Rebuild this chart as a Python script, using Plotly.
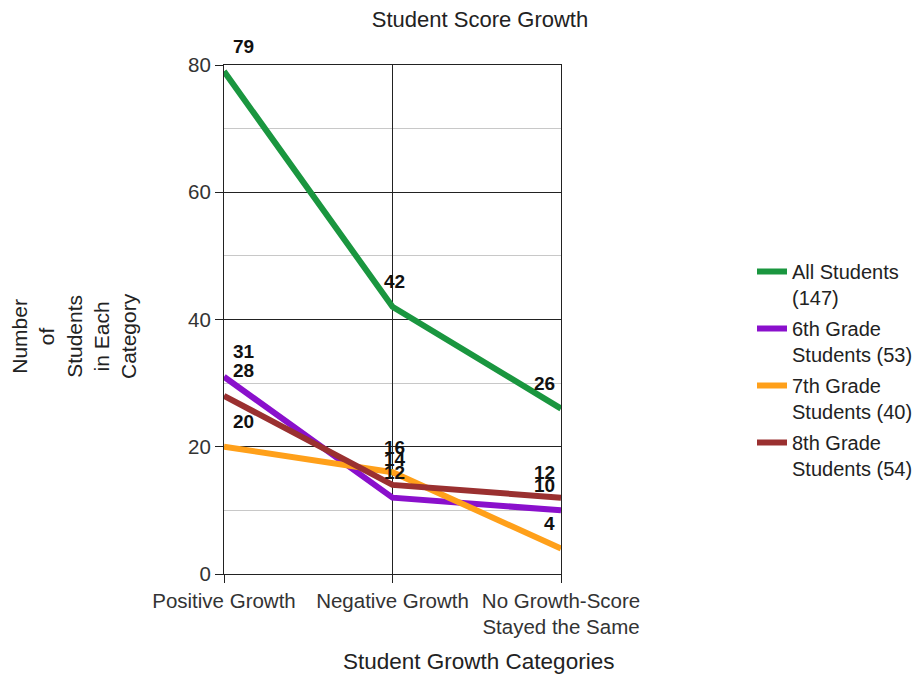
import plotly.graph_objects as go

# Growth categories on the x axis
categories = ["Positive Growth", "Negative Growth", "No Growth-Score<br>Stayed the Same"]

# Number of students in each category, per group
all_students = [79, 42, 26]
grade6 = [31, 12, 10]
grade7 = [20, 16, 4]
grade8 = [28, 14, 12]

series_names = [
    "All Students<br>(147)",
    "6th Grade<br>Students (53)",
    "7th Grade<br>Students (40)",
    "8th Grade<br>Students (54)",
]
series_values = [all_students, grade6, grade7, grade8]
series_colors = ["#1a963f", "#8a10cc", "#ffa01a", "#9a3030"]

y_ticks = [0, 20, 40, 60, 80]

FONT = "Liberation Sans, Arial, sans-serif"
x_pos = list(range(len(categories)))

fig = go.Figure()
for name, vals, color in zip(series_names, series_values, series_colors):
    fig.add_trace(go.Scatter(
        x=x_pos, y=vals, mode="lines", name=name,
        line=dict(color=color, width=6),
        cliponaxis=False,
        legendgroup=name,
    ))

# Value labels above each point
for si, vals in enumerate(series_values):
    for i, v in enumerate(vals):
        if i == 0:
            xanchor, xshift = "left", 7
        elif i == len(vals) - 1:
            xanchor, xshift = "right", -4
        else:
            xanchor, xshift = "center", 2
        fig.add_annotation(
            x=x_pos[i], y=v, text=f"<b>{v}</b>", showarrow=False,
            xanchor=xanchor, yanchor="middle",
            xshift=xshift, yshift=25,
            font=dict(family=FONT, size=19, color="#111111"),
        )

# Axis titles
fig.add_annotation(
    xref="paper", yref="paper", x=(478 - 224) / 337, y=(574 - 661) / 509,
    text="Student Growth Categories", showarrow=False,
    xanchor="center", yanchor="middle",
    font=dict(family=FONT, size=22.5, color="#222222"),
)
fig.add_annotation(
    xref="paper", yref="paper", x=(74 - 224) / 337, y=(574 - 336) / 509,
    text="Number<br>of<br>Students<br>in Each<br>Category", showarrow=False,
    textangle=-90, xanchor="center", yanchor="middle",
    font=dict(family=FONT, size=21, color="#222222"),
)

fig.update_layout(
    width=918, height=675,
    margin=dict(l=224, r=357, t=65, b=101),
    paper_bgcolor="white", plot_bgcolor="white",
    font=dict(family=FONT, size=20.5, color="#333333"),
    title=dict(
        text="Student Score Growth", xref="container", yref="container",
        x=480 / 918, y=1 - 19 / 675, xanchor="center", yanchor="middle",
        font=dict(family=FONT, size=22, color="#222222"),
    ),
    legend=dict(
        xref="container", yref="container",
        x=752 / 918, y=1 - 252 / 675, xanchor="left", yanchor="top",
        font=dict(family=FONT, size=20, color="#222222"),
        itemwidth=30, tracegroupgap=2, valign="top",
        bgcolor="rgba(0,0,0,0)",
    ),
    showlegend=True,
)

fig.update_xaxes(
    range=[0, 2], tickmode="array", tickvals=x_pos, ticktext=categories,
    showgrid=True, gridcolor="#222222", gridwidth=1,
    showline=True, linecolor="#222222", linewidth=1, mirror=True,
    ticks="outside", ticklen=8, tickcolor="#222222",
    zeroline=False, fixedrange=True,
)
fig.update_yaxes(
    range=[0, 80], tickmode="array", tickvals=y_ticks,
    showgrid=True, gridcolor="#222222", gridwidth=1,
    minor=dict(dtick=10, tick0=0, showgrid=True, gridcolor="#c8c8c8", ticks=""),
    showline=True, linecolor="#222222", linewidth=1, mirror=True,
    ticks="outside", ticklen=8, tickcolor="#222222",
    zeroline=False, fixedrange=True,
)

fig.write_html("out.html")
